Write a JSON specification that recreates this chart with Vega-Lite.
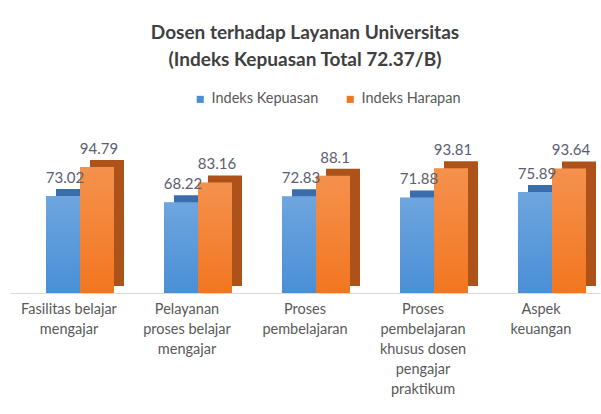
{
  "$schema": "https://vega.github.io/schema/vega-lite/v6.json",
  "width": 590,
  "height": 133,
  "autosize": {"type": "none"},
  "padding": {"left": 10, "top": 160, "right": 1, "bottom": 121},
  "background": "white",
  "title": {
    "text": ["Dosen terhadap Layanan Universitas", "(Indeks Kepuasan Total 72.37/B)"],
    "font": "Lato",
    "fontSize": 19,
    "fontWeight": "bold",
    "color": "#404040",
    "lineHeight": 27,
    "anchor": "middle",
    "offset": 22
  },
  "config": {"view": {"stroke": null}, "font": "Lato"},
  "data": {
    "values": [
      {"category": "Fasilitas belajar|mengajar", "series": "Indeks Kepuasan", "value": 73.02},
      {"category": "Fasilitas belajar|mengajar", "series": "Indeks Harapan", "value": 94.79},
      {"category": "Pelayanan|proses belajar|mengajar", "series": "Indeks Kepuasan", "value": 68.22},
      {"category": "Pelayanan|proses belajar|mengajar", "series": "Indeks Harapan", "value": 83.16},
      {"category": "Proses|pembelajaran", "series": "Indeks Kepuasan", "value": 72.83},
      {"category": "Proses|pembelajaran", "series": "Indeks Harapan", "value": 88.1},
      {"category": "Proses|pembelajaran|khusus dosen|pengajar|praktikum", "series": "Indeks Kepuasan", "value": 71.88},
      {"category": "Proses|pembelajaran|khusus dosen|pengajar|praktikum", "series": "Indeks Harapan", "value": 93.81},
      {"category": "Aspek|keuangan", "series": "Indeks Kepuasan", "value": 75.89},
      {"category": "Aspek|keuangan", "series": "Indeks Harapan", "value": 93.64}
    ]
  },
  "encoding": {
    "x": {
      "field": "category",
      "type": "nominal",
      "sort": null,
      "scale": {"type": "band", "paddingInner": 0, "paddingOuter": 0},
      "axis": {
        "title": null,
        "labelAngle": 0,
        "labelExpr": "split(datum.value, '|')",
        "labelLineHeight": 20,
        "labelFontSize": 14.5,
        "labelFont": "Lato",
        "labelColor": "#595959",
        "labelPadding": 9,
        "ticks": false,
        "domainColor": "#d9d9d9",
        "domainWidth": 1,
        "grid": false,
        "labelLimit": 200
      }
    },
    "y": {
      "field": "value",
      "type": "quantitative",
      "scale": {"domain": [0, 100]},
      "axis": null
    }
  },
  "layer": [
    {
      "mark": {"type": "bar", "yOffset": -7, "y2Offset": -7},
      "encoding": {
        "xOffset": {
          "field": "series",
          "type": "nominal",
          "scale": {"type": "band", "domain": ["Indeks Kepuasan", "Indeks Harapan"], "paddingInner": 0, "paddingOuter": 0.735, "align": 0.92}
        },
        "color": {
          "field": "series",
          "type": "nominal",
          "scale": {"domain": ["Indeks Kepuasan", "Indeks Harapan"], "range": ["#3b6cad", "#ad5219"]},
          "legend": null
        }
      }
    },
    {
      "mark": {"type": "bar"},
      "encoding": {
        "xOffset": {
          "field": "series",
          "type": "nominal",
          "scale": {"type": "band", "domain": ["Indeks Kepuasan", "Indeks Harapan"], "paddingInner": 0, "paddingOuter": 0.735, "align": 0.72}
        },
        "color": {
          "field": "series",
          "type": "nominal",
          "scale": {"domain": ["Indeks Kepuasan", "Indeks Harapan"], "range": ["#4a8fd6", "#f27621"]},
          "legend": {
            "title": null,
            "orient": "none",
            "legendX": 183,
            "legendY": -68,
            "direction": "horizontal",
            "symbolType": "square",
            "symbolSize": 50,
            "labelFontSize": 14.5,
            "labelFont": "Lato",
            "labelColor": "#595959",
            "columnPadding": 24,
            "labelOffset": 4
          }
        }
      }
    },
    {
      "mark": {
        "type": "bar",
        "color": {
          "gradient": "linear",
          "x1": 0, "y1": 0, "x2": 0, "y2": 1,
          "stops": [
            {"offset": 0, "color": "rgba(255,255,255,0.2)"},
            {"offset": 1, "color": "rgba(255,255,255,0)"}
          ]
        }
      },
      "encoding": {
        "xOffset": {
          "field": "series",
          "type": "nominal",
          "scale": {"type": "band", "domain": ["Indeks Kepuasan", "Indeks Harapan"], "paddingInner": 0, "paddingOuter": 0.735, "align": 0.72}
        }
      }
    },
    {
      "mark": {"type": "text", "dx": 2, "dy": -13, "baseline": "alphabetic", "fontSize": 15, "font": "Lato", "color": "#5a6070"},
      "encoding": {
        "xOffset": {
          "field": "series",
          "type": "nominal",
          "scale": {"type": "band", "domain": ["Indeks Kepuasan", "Indeks Harapan"], "paddingInner": 0, "paddingOuter": 0.735, "align": 0.72}
        },
        "text": {"field": "value", "type": "quantitative", "format": "~g"}
      }
    }
  ],
  "resolve": {"scale": {"color": "independent", "xOffset": "independent"}}
}
